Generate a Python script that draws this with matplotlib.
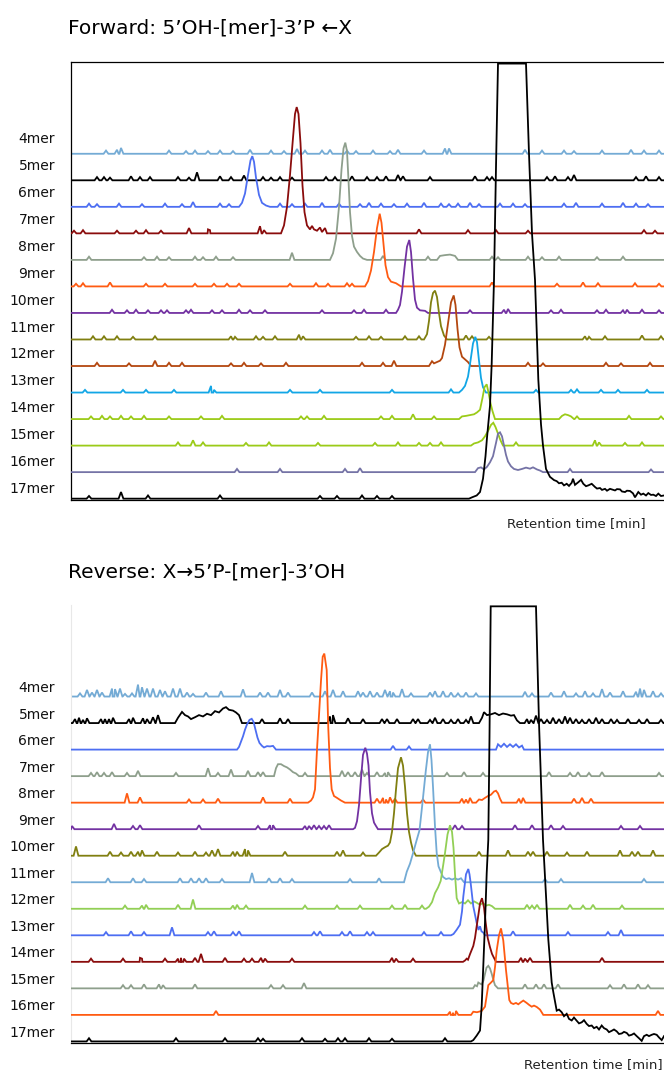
import matplotlib
matplotlib.use("Agg")
import matplotlib.pyplot as plt

# retention time axis in arbitrary units (0 = left frame, 593 = right edge)
XMAX = 593
labels = ["4mer", "5mer", "6mer", "7mer", "8mer", "9mer", "10mer",
          "11mer", "12mer", "13mer", "14mer", "15mer", "16mer", "17mer"]

LBLUE, BLACK, BLUE, DRED = "#74abd5", "#000000", "#4d6ef2", "#8a0c0c"
GRAYG, ORANGE, PURPLE, OLIVE = "#8e9f8c", "#ff5b12", "#7332a2", "#807f10"
RUST, CYAN, YGREEN, LGREEN, GPURP = "#b4470f", "#12a6e6", "#9bcb18", "#92cf55", "#7573a6"

fwd_colors = [LBLUE, BLACK, BLUE, DRED, GRAYG, ORANGE, PURPLE, OLIVE,
              RUST, CYAN, YGREEN, YGREEN, GPURP, BLACK]
rev_colors = [LBLUE, BLACK, BLUE, GRAYG, ORANGE, PURPLE, OLIVE, LBLUE,
              LGREEN, BLUE, DRED, GRAYG, ORANGE, BLACK]

# ---------------- Forward panel: peak outlines (time, signal) and noise blips
f04_peaks = []
f04_blips = [(35, .12), (46, .15), (50, .22), (98, .12), (115, .1), (124, .12), (137, .1), (149, .12),
             (162, .1), (179, .15), (200, .12), (213, .1), (226, .18), (234, .12), (251, .12), (259, .15),
             (276, .12), (285, .1), (302, .12), (319, .1), (327, .15), (353, .12), (374, .2), (378, .2),
             (454, .15), (471, .12), (493, .12), (503, .1), (531, .12), (560, .15), (573, .12), (588, .12)]
f05_peaks = []
f05_blips = [(26, .12), (33, .12), (39, .1), (60, .15), (69, .12), (79, .12), (107, .12), (118, .1),
             (126, .3), (149, .15), (160, .12), (173, .18), (192, .12), (200, .1), (209, .12), (221, .1),
             (255, .12), (264, .12), (281, .15), (296, .12), (306, .12), (315, .15), (327, .2), (332, .15),
             (359, .12), (404, .15), (416, .12), (421, .12), (476, .12), (484, .15), (497, .12), (503, .2),
             (565, .12), (575, .15), (588, .12)]
f06_peaks = [[(168, 0), (171, .15), (174, .5), (177, 1.2), (179.5, 1.75), (181.3, 1.91), (183, 1.7),
              (185, 1.1), (188, .45), (191, .15), (195, .05), (199, 0)]]
f06_blips = [(18, .12), (26, .1), (48, .12), (71, .1), (94, .12), (111, .1), (122, .18), (149, .12),
             (158, .1), (209, .12), (221, .1), (234, .12), (251, .15), (268, .12), (289, .1), (298, .15),
             (310, .12), (323, .1), (336, .12), (353, .15), (370, .12), (378, .1), (387, .12), (399, .15),
             (408, .1), (429, .12), (442, .12), (454, .1), (493, .12), (505, .15), (531, .12), (552, .15),
             (565, .12), (577, .1)]
f07_peaks = [[(210, 0), (213, .3), (216, 1.0), (219, 2.2), (222, 3.6), (224, 4.5), (225.7, 4.76),
              (227.5, 4.5), (229.5, 3.4), (231.5, 1.8), (233.5, .8), (236, .3), (239, .15), (241, .28),
              (243, .15), (246, .1), (249, .22), (251, .05), (254, .2), (256, 0)]]
f07_blips = [(3, .1), (12, .12), (46, .1), (65, .1), (75, .12), (90, .1), (118, .2), (137, .15),
             (139, .12), (189, .27), (193, .12), (348, .15), (397, .12), (425, .12), (457, .1),
             (573, .12), (584, .1)]
f08_peaks = [[(259, 0), (262, .25), (265, .8), (268, 2.0), (270.5, 3.4), (272.5, 4.2), (274.3, 4.42),
              (276, 4.1), (277.5, 3.0), (279, 1.8), (281, .9), (283, .5), (286, .3), (289, .15),
              (292, .05), (296, 0)],
             [(366, 0), (369, .15), (374, .18), (379, .2), (384, .15), (387, 0)]]
f08_blips = [(18, .12), (73, .1), (86, .12), (98, .1), (124, .12), (132, .1), (145, .12), (162, .1),
             (221, .27), (298, .1), (312, .15), (357, .12), (421, .12), (427, .1), (457, .12), (471, .1),
             (488, .12), (526, .1), (552, .12)]
f09_peaks = [[(294, 0), (297, .2), (300, .6), (303, 1.3), (306, 2.2), (308.7, 2.74), (310.5, 2.4),
              (312.5, 1.6), (314.5, .8), (317, .35), (320, .18), (325, .12), (330, 0)]]
f09_blips = [(5, .1), (12, .12), (39, .15), (75, .1), (94, .1), (124, .1), (143, .1), (156, .1),
             (168, .1), (219, .1), (245, .12), (257, .1), (276, .12), (281, .1), (421, .15), (486, .1),
             (512, .15), (527, .12), (564, .12), (588, .1)]
f10_peaks = [[(325, 0), (327, .12), (329, .3), (331, .8), (333.5, 1.7), (336, 2.5), (338.3, 2.75),
              (340, 2.3), (342, 1.3), (344, .5), (346, .2), (349, .1), (354, .08), (357, 0)]]
f10_blips = [(41, .12), (56, .1), (65, .12), (77, .1), (90, .1), (96, .1), (115, .1), (120, .12),
             (141, .1), (151, .1), (168, .12), (179, .1), (194, .1), (251, .1), (283, .1), (293, .12),
             (315, .12), (399, .1), (433, .12), (437, .15), (480, .1), (490, .12), (526, .1), (535, .12),
             (552, .1), (556, .12), (571, .12), (588, .1)]
f11_peaks = [[(353, 0), (356, .2), (358, .7), (360, 1.4), (362, 1.75), (364, 1.84), (366, 1.6),
              (368, 1.0), (370, .5), (373, .15), (376, 0)]]
f11_blips = [(22, .12), (33, .12), (46, .12), (62, .1), (84, .12), (160, .12), (164, .1), (185, .12),
             (192, .1), (204, .12), (228, .18), (232, .12), (285, .1), (298, .12), (310, .1), (334, .12),
             (348, .12), (395, .15), (401, .12), (418, .1), (514, .12), (518, .1), (534, .12), (571, .15),
             (590, .12)]
f12_peaks = [[(358, 0), (361, .18), (363, .1), (366, .15), (369, .2), (371, .3), (374, .8), (377, 1.6),
              (380, 2.4), (382.7, 2.66), (384.5, 2.3), (386.5, 1.4), (388.5, .7), (391, .35), (394, .25),
              (397, .15), (400, 0)]]
f12_blips = [(26, .12), (58, .1), (84, .2), (98, .12), (111, .12), (160, .1), (173, .12), (190, .1),
             (215, .12), (291, .12), (312, .12), (323, .2), (457, .12), (472, .1), (535, .12), (550, .1),
             (579, .12)]
f13_peaks = [[(388, 0), (391, .1), (394, .25), (397, .6), (399.5, 1.2), (402, 1.85), (404.3, 2.1),
              (406, 1.9), (408, 1.2), (410, .55), (412, .2), (415, 0)]]
f13_blips = [(14, .1), (52, .1), (75, .1), (103, .1), (140, .25), (143, .1), (219, .1), (249, .1),
             (321, .1), (380, .12), (465, .1), (500, .1), (506, .12), (530, .1), (547, .1), (576, .1)]
f14_peaks = [[(388, 0), (391, .1), (395, .12), (399, .15), (403, .18), (406, .25), (409, .35),
              (411.5, .8), (413.5, 1.2), (415.7, 1.31), (417.5, 1.0), (419.5, .6), (421.5, .3), (424, 0)],
             [(488, 0), (491, .12), (494, .18), (497, .15), (500, .1), (503, 0)]]
f14_blips = [(20, .1), (31, .12), (39, .1), (50, .12), (60, .1), (73, .12), (98, .1), (130, .1),
             (151, .12), (230, .1), (236, .1), (253, .12), (310, .1), (321, .12), (342, .18), (363, .1),
             (506, .1), (558, .12), (590, .1)]
f15_peaks = [[(400, 0), (403, .08), (407, .12), (411, .2), (414, .35), (417, .55), (420, .78), (422.3, .86),
              (424.5, .7), (427, .45), (429.5, .2), (432, 0)]]
f15_blips = [(107, .12), (122, .2), (132, .12), (175, .1), (198, .12), (247, .1), (304, .1), (327, .12),
             (348, .1), (359, .1), (370, .12), (445, .12), (524, .2), (528, .12), (554, .1), (571, .12)]
f16_peaks = [[(404, 0), (407, .15), (410, .18), (413, .1), (416, .2), (419, .37), (422, .6), (425, 1.1),
              (427, 1.45), (429, 1.5), (431, 1.35), (433, 1.0), (435, .65), (437, .4), (440, .22),
              (443, .12), (447, .08), (451, .12), (455, .17), (459, .13), (462, .18), (466, .1),
              (469, .06), (472, 0)]]
f16_blips = [(166, .12), (209, .12), (274, .12), (289, .15), (499, .12), (580, .1)]
f17_peaks = [[(398, 0), (401, .05), (405.7, .12), (409, .25), (412, .75), (414.5, 1.6), (416, 2.3),
              (419, 3.5), (420.7, 5.1), (423, 8.25), (425, 12.5), (427, 16.4), (455, 16.4), (458, 13.0),
              (461, 10.0), (464, 8.25), (467.3, 4.5), (470, 2.8), (472, 2.0), (475, 1.12), (479, .82),
              (480.7, .77), (483, .7), (485.7, .66), (488, .58), (490.7, .6), (493, .5), (495.7, .56),
              (498, .48), (500.7, .6), (502, .75), (504, .52), (507.3, .62), (510, .71), (512.3, .56),
              (515, .47), (517.3, .5), (520.7, .56), (524, .44), (526, .38), (529, .4), (531, .33),
              (534, .37), (536, .3), (539, .37), (544, .31), (546, .36), (549, .35), (551, .27),
              (554, .25), (556, .3), (559, .29), (562, .2), (564, .05), (567.3, .25), (570, .15),
              (572.3, .19), (575, .12), (577.3, .21), (580, .14), (582.3, .15), (585, .1),
              (587.3, .19), (590, .1), (593, .12)]]
f17_blips = [(18, .1), (50, .25), (77, .12), (149, .12), (249, .1), (266, .1), (291, .12), (306, .1),
             (321, .1)]

# ---------------- Reverse panel
r04_peaks = []
r04_blips = [(9, .12), (16, .25), (21, .15), (26, .25), (31, .15), (41, .3), (44, .28), (49, .3),
             (54, .1), (61, .12), (67, .45), (71, .35), (76, .3), (82, .3), (89, .25), (94, .2),
             (102, .3), (109, .3), (116, .15), (122, .1), (135, .15), (150, .2), (172, .27), (189, .15),
             (197, .15), (209, .25), (217, .15), (241, .15), (254, .2), (262, .25), (272, .2), (287, .2),
             (292, .15), (299, .2), (306, .15), (314, .25), (319, .2), (322, .15), (331, .28), (340, .12),
             (359, .15), (364, .2), (372, .2), (380, .15), (387, .12), (395, .15), (405, .12), (454, .18),
             (461, .12), (480, .15), (493, .2), (505, .12), (514, .2), (522, .12), (531, .28), (539, .15),
             (552, .2), (565, .18), (569, .3), (573, .25), (582, .2), (590, .12)]
r05_peaks = [[(104, 0), (107, .2), (111, .42), (114, .3), (117, .25), (120, .15), (124, .22), (128, .3),
              (132, .25), (136, .35), (140, .3), (144, .45), (148, .4), (152, .55), (155, .6), (158, .5),
              (162, .47), (165, .4), (168, .3), (171, 0)],
             [(408, 0), (411, .2), (413, .41), (416, .3), (420, .33), (424, .38), (428, .3), (432, .36),
              (436, .33), (440, .28), (443, .3), (446, .1), (449, 0)]]
r05_blips = [(4, .15), (8, .2), (12, .12), (16, .18), (30, .15), (34, .15), (38, .15), (42, .2),
             (58, .15), (62, .2), (72, .18), (76, .15), (82, .22), (87, .3), (191, .15), (209, .18),
             (217, .15), (259, .25), (262, .3), (277, .18), (292, .15), (311, .15), (316, .15), (326, .15),
             (342, .15), (347, .15), (359, .12), (364, .2), (372, .15), (380, .12), (387, .15), (395, .12),
             (400, .25), (456, .15), (460, .12), (465, .28), (470, .15), (476, .12), (482, .2), (488, .15),
             (494, .25), (499, .2), (505, .15), (511, .12), (518, .15), (525, .2), (531, .15), (540, .15),
             (546, .12), (557, .15), (568, .12), (576, .15), (590, .12)]
r06_peaks = [[(166, 0), (168, .1), (170, .3), (172, .5), (174, .75), (176, .95), (178.5, 1.12),
              (180.7, 1.16), (182.5, 1.05), (184.5, .75), (186.5, .45), (188.5, .25), (191, .14),
              (193, .08), (196, .13), (199, .12), (202, .14), (205, 0)],
             [(425, 0), (427, .2), (430, .1), (433, .22), (436, .1), (439, .2), (442, .1), (445, .2),
              (448, .08), (451, .15), (453, 0)]]
r06_blips = [(322, .14), (338, .12)]
r07_peaks = [[(203, 0), (205, .3), (207, .45), (210, .45), (213, .38), (216, .33), (219, .25),
              (222, .15), (225, .1), (228, 0)]]
r07_blips = [(20, .12), (26, .15), (33, .12), (41, .15), (56, .12), (67, .2), (105, .12), (137, .3),
             (147, .12), (160, .25), (177, .2), (187, .15), (192, .15), (234, .12), (271, .2),
             (277, .15), (284, .15), (291, .25), (296, .12), (306, .15), (314, .12), (317, .15),
             (376, .12), (393, .15), (412, .12), (478, .15), (499, .12), (507, .15), (518, .12),
             (531, .15), (588, .12)]
r08_peaks = [[(237, 0), (240, .08), (242, .2), (244, .5), (246, 2.0), (248, 3.3), (250, 4.6),
              (251.7, 5.5), (253.3, 5.62), (255.7, 5.0), (257.3, 2.8), (259, 1.3), (260.7, .5),
              (263, .25), (266, .18), (270, .08), (274, 0)],
             [(405, 0), (408, .12), (411, .1), (414, .18), (417, .25), (420, .3), (423, .42),
              (425, .45), (427, .35), (429, .15), (431, 0)]]
r08_blips = [(56, .35), (69, .2), (118, .12), (132, .12), (147, .15), (192, .2), (219, .15),
             (306, .15), (312, .18), (315, .12), (319, .2), (324, .15), (352, .12), (391, .15),
             (395, .12), (399, .18), (448, .15), (452, .18), (503, .15), (511, .18), (520, .15)]
r09_peaks = [[(282, 0), (284, .05), (286, .3), (288, .9), (290, 1.9), (292, 2.8), (294.3, 3.07),
              (296, 2.85), (297.5, 2.4), (299, 1.4), (301, .6), (303, .25), (305, .12), (307, 0)]]
r09_blips = [(1, .12), (43, .2), (62, .12), (69, .15), (128, .15), (187, .12), (199, .15), (202, .15),
             (234, .12), (238, .12), (243, .15), (248, .12), (253, .12), (258, .15), (384, .15),
             (391, .12), (444, .15), (461, .15), (480, .15), (492, .12), (550, .12), (569, .12)]
r10_peaks = [[(305, 0), (308, .12), (311, .25), (314, .32), (317, .38), (319, .5), (321, .9), (323, 1.6),
              (325, 2.5), (327, 3.3), (330, 3.71), (332, 3.4), (334, 2.6), (336, 1.6), (338, .9),
              (340, .5), (342, .2), (345, 0)]]
r10_blips = [(5, .35), (39, .15), (50, .12), (60, .15), (67, .15), (71, .2), (86, .15), (107, .12),
             (124, .15), (135, .12), (141, .2), (147, .25), (162, .15), (166, .15), (174, .25),
             (177, .2), (214, .15), (266, .15), (272, .2), (292, .12), (408, .15), (437, .2),
             (457, .15), (462, .15), (476, .15), (496, .12), (516, .15), (549, .2), (561, .15),
             (567, .15), (582, .2)]
r11_peaks = [[(333, 0), (335.8, .4), (339, .7), (342, 1.09), (345, 1.5), (348.5, 1.96), (351.5, 3.0),
              (354.8, 4.2), (357, 4.9), (359, 5.2), (360.5, 4.6), (362, 3.6), (364, 2.1), (365.7, 1.1),
              (367.5, .6), (369.7, .4), (372, .2), (375, .12), (378, .15), (381, .1), (384, .15),
              (387, .1), (390, .15), (393, 0)]]
r11_blips = [(37, .15), (62, .15), (73, .12), (109, .15), (120, .15), (128, .15), (135, .15),
             (151, .12), (181, .35), (198, .15), (209, .15), (221, .12), (279, .12), (308, .15),
             (474, .12), (490, .12), (573, .12)]
r12_peaks = [[(355, 0), (358, .08), (361, .25), (364, .59), (367, .8), (369.7, 1.05), (372, 1.6),
              (374, 2.1), (376.5, 2.8), (379, 3.15), (381, 2.9), (382.5, 2.3), (384, 1.3),
              (385.7, .4), (388, .2), (391, .25), (394, .2), (397, .32), (400, .2), (403, .28),
              (406, .22), (409, .15), (412, .22), (415, .12), (418, .15), (421, .1), (424, 0)]]
r12_blips = [(54, .12), (71, .12), (75, .15), (107, .15), (122, .35), (162, .12), (166, .15),
             (175, .12), (234, .12), (266, .12), (289, .12), (321, .12), (334, .15), (351, .12),
             (456, .15), (461, .12), (466, .15), (499, .15), (512, .12), (522, .15), (551, .12)]
r13_peaks = [[(380, 0), (382.5, .05), (385.7, .21), (389, .4), (391, .9), (392.3, 1.46), (395, 2.3),
              (397.3, 2.5), (398.5, 2.3), (399.7, 1.96), (402.3, 1.09), (405.7, .46), (407.5, .2),
              (409, .34), (410.5, .15), (412.3, .1), (414, 0)]]
r13_blips = [(35, .12), (60, .15), (73, .12), (101, .3), (137, .12), (143, .15), (162, .12),
             (168, .15), (243, .12), (249, .15), (271, .12), (279, .15), (296, .12), (302, .12),
             (353, .12), (370, .12), (442, .15), (497, .12), (537, .12), (550, .2)]
r14_peaks = [[(392, 0), (394, .05), (395.7, .12), (397, .08), (399, .29), (402.3, .6), (404, .9),
              (405.7, 1.35), (407.5, 1.8), (409, 2.2), (411, 2.4), (413, 2.05), (414.7, 1.47),
              (416.7, .9), (419, .55), (421, .3), (422.3, .2), (425, 0)]]
r14_blips = [(20, .12), (52, .12), (69, .15), (71, .12), (94, .12), (107, .12), (110, .15),
             (113, .12), (124, .15), (130, .3), (154, .15), (173, .12), (181, .12), (190, .15),
             (194, .12), (221, .12), (321, .15), (325, .12), (342, .12), (450, .15), (454, .12),
             (459, .15), (531, .15)]
r15_peaks = [[(402, 0), (404, .12), (406, .08), (407.3, .22), (409, .18), (410.7, .15), (412.5, .3),
              (414, .55), (415.5, .78), (417.3, .85), (419, .75), (420.7, .55), (422.5, .3),
              (424, .12), (427, 0)]]
r15_blips = [(52, .12), (60, .12), (73, .15), (88, .15), (92, .12), (124, .15), (200, .12),
             (212, .12), (233, .2), (454, .15), (465, .15), (473, .15), (487, .15), (539, .12),
             (553, .15), (567, .15), (577, .12)]
r16_peaks = [[(400, 0), (402.3, .12), (406, .1), (410.7, .15), (414, .31), (417.3, 1.12), (419.5, 1.2),
              (422.3, 1.31), (424, 1.8), (425.7, 2.43), (428, 3.0), (430, 3.26), (432.3, 2.8),
              (435, 1.69), (438.3, .56), (440, .45), (442.3, .41), (445, .45), (447.3, .4), (450, .48),
              (452.3, .54), (455.7, .45), (458, .38), (460.7, .31), (463, .35), (465.7, .3), (469, .2),
              (472.3, 0)]]
r16_blips = [(145, .15), (379, .12), (382, .08), (385, .15), (587, .15)]
r17_peaks = [[(400, 0), (402.3, .05), (405.7, .22), (409, .41), (410.7, 1.35), (412.3, 2.85), (414, 4.47),
              (415.7, 6.34), (417.3, 7.6), (418.5, 11.5), (419.7, 16.4), (465, 16.4), (468, 12.0),
              (472, 7.6), (475, 5.5), (477.3, 3.85), (480.7, 2.22), (482.3, 1.86), (485.7, 1.16),
              (488, 1.2), (490.7, 1.1), (493, .95), (495.7, 1.04), (498, .85), (500.7, .79), (503, .9),
              (505.7, .78), (508, .68), (510.7, .72), (513, .8), (515.7, .66), (518, .58), (520.7, .6),
              (523, .5), (525.7, .55), (528, .45), (530.7, .6), (533, .5), (535.7, .45), (538, .35),
              (540.7, .4), (543, .45), (545.7, .38), (548, .28), (550.7, .3), (553, .36), (555.7, .32),
              (558, .22), (560.7, .25), (563, .3), (565.7, .2), (568, .12), (570.7, .02), (573, .2),
              (575.7, .25), (578, .2), (580.7, .25), (583, .28), (585.7, .25), (588, .15), (590.7, .05),
              (593, .2)]]
r17_blips = [(18, .12), (105, .12), (154, .12), (187, .12), (192, .1), (231, .12), (254, .1), (267, .12),
             (274, .12), (298, .12), (321, .1), (374, .12)]

fwd_peaks = [f04_peaks, f05_peaks, f06_peaks, f07_peaks, f08_peaks, f09_peaks, f10_peaks,
             f11_peaks, f12_peaks, f13_peaks, f14_peaks, f15_peaks, f16_peaks, f17_peaks]
fwd_blips = [f04_blips, f05_blips, f06_blips, f07_blips, f08_blips, f09_blips, f10_blips,
             f11_blips, f12_blips, f13_blips, f14_blips, f15_blips, f16_blips, f17_blips]
rev_peaks = [r04_peaks, r05_peaks, r06_peaks, r07_peaks, r08_peaks, r09_peaks, r10_peaks,
             r11_peaks, r12_peaks, r13_peaks, r14_peaks, r15_peaks, r16_peaks, r17_peaks]
rev_blips = [r04_blips, r05_blips, r06_blips, r07_blips, r08_blips, r09_blips, r10_blips,
             r11_blips, r12_blips, r13_blips, r14_blips, r15_blips, r16_blips, r17_blips]


def build_trace(peaks, blips, hw=2.4):
    """Polyline of one chromatogram: flat baseline + peak outlines + small noise spikes."""
    spans = [(p[0][0], p[-1][0]) for p in peaks]
    pts = []
    for p in peaks:
        pts += p
    if not any(a <= 0 for a, b in spans):
        pts.append((0.0, 0.0))
    if not any(b >= XMAX for a, b in spans):
        pts.append((float(XMAX), 0.0))
    for x, h in blips:
        if any(a - hw <= x <= b + hw for a, b in spans):
            continue
        pts += [(x - hw, 0.0), (x, h), (x + hw, 0.0)]
    pts.sort()
    xs = [p[0] for p in pts]
    ys = [p[1] for p in pts]
    return xs, ys


def draw_panel(ax, peaks, blips, colors, label_y):
    n = len(labels)
    for i in range(n):
        offset = n - 1 - i
        xs, ys = build_trace(peaks[i], blips[i])
        ax.plot(xs, [y + offset for y in ys], color=colors[i], lw=1.3,
                solid_joinstyle="miter", zorder=2 + i)
        ax.text(-16, label_y[i], labels[i], ha="right", va="center", fontsize=10,
                color="#111111")
    ax.set_xlim(0, XMAX)
    ax.set_ylim(-0.05, 16.45)
    ax.set_xticks([])
    ax.set_yticks([])


fig = plt.figure(figsize=(6.64, 10.75), dpi=100)

ax1 = fig.add_axes([71 / 664, 0.5349, 593 / 664, 0.4072])
fwd_label_y = [13.54 - k * (13.54 - 0.37) / 13 for k in range(14)]
draw_panel(ax1, fwd_peaks, fwd_blips, fwd_colors, fwd_label_y)
for s in ["left", "top", "bottom"]:
    ax1.spines[s].set_color("black")
    ax1.spines[s].set_linewidth(0.9)
ax1.spines["right"].set_visible(False)

ax2 = fig.add_axes([71 / 664, 0.0300, 593 / 664, 0.4072])
rev_label_y = [13 - k + 0.32 for k in range(14)]
draw_panel(ax2, rev_peaks, rev_blips, rev_colors, rev_label_y)
ax2.spines["left"].set_color("#e8e8e8")
ax2.spines["left"].set_linewidth(0.8)
for s in ["top", "right"]:
    ax2.spines[s].set_visible(False)
ax2.spines["bottom"].set_color("black")
ax2.spines["bottom"].set_linewidth(0.9)

fig.text(68 / 664, 1 - 28 / 1075, "Forward: 5\u2019OH-[mer]-3\u2019P \u2190X",
         fontsize=14.5, ha="left", va="center")
fig.text(68 / 664, 1 - 572 / 1075, "Reverse: X\u21925\u2019P-[mer]-3\u2019OH",
         fontsize=14.5, ha="left", va="center")
fig.text(646 / 664, 1 - 524 / 1075, "Retention time [min]", fontsize=9.5,
         ha="right", va="center", color="#222222")
fig.text(663 / 664, 1 - 1065 / 1075, "Retention time [min]", fontsize=9.5,
         ha="right", va="center", color="#222222")

fig.savefig("out.png", dpi=100)
